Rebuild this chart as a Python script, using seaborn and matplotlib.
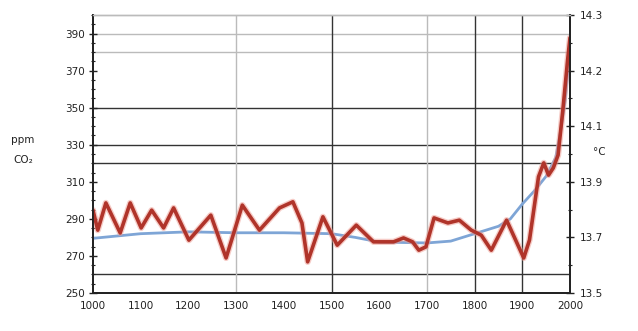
import matplotlib
matplotlib.use("Agg")
import matplotlib.pyplot as plt
import seaborn as sns
import pandas as pd
from matplotlib.ticker import FixedLocator, MultipleLocator, FixedFormatter

sns.set_style("white")
plt.rcParams['font.family'] = ['DejaVu Sans']

# ---- data ----
co2_years = [1000, 1100, 1200, 1300, 1400, 1500, 1550, 1600, 1700, 1750, 1800,
             1850, 1875, 1900, 1925, 1950, 1970, 1980, 1990, 2000]
co2_ppm = [279.5, 282, 283, 282.5, 282.5, 282, 280, 277.5, 277, 278, 282,
           286, 290, 298, 305, 313, 323, 337, 354, 382]

temp_years = [1000, 1010, 1027, 1057, 1078, 1101, 1123, 1148, 1169, 1201, 1247,
              1279, 1313, 1349, 1391, 1419, 1438, 1450, 1482, 1512, 1552, 1588,
              1630, 1651, 1670, 1683, 1698, 1715, 1744, 1768, 1793, 1814, 1835,
              1867, 1884, 1903, 1915, 1934, 1945, 1955, 1965, 1975, 1985, 1995, 2000]
temp_c = [13.949, 13.913, 13.962, 13.908, 13.962, 13.917, 13.949, 13.917, 13.953,
          13.895, 13.940, 13.863, 13.958, 13.913, 13.953, 13.964, 13.926, 13.856,
          13.937, 13.886, 13.922, 13.892, 13.892, 13.899, 13.892, 13.877, 13.883,
          13.935, 13.926, 13.931, 13.913, 13.904, 13.877, 13.931, 13.899, 13.863,
          13.895, 14.009, 14.034, 14.012, 14.025, 14.048, 14.129, 14.219, 14.259]

x_ticks = [1000, 1100, 1200, 1300, 1400, 1500, 1600, 1700, 1800, 1900, 2000]
x_labels = ["1000", "1100", "1200", "1300", "1400", "1500", "1600", "1700",
            "1800", "1900", "2000"]
left_ticks = [250, 270, 290, 310, 330, 350, 370, 390]
right_tick_pos = [13.8, 13.9, 14.0, 14.1, 14.2, 14.3]
right_labels = ["13.5", "13.7", "13.9", "14.1", "14.2", "14.3"]

hgrid_dark = [260, 320, 330, 350]
hgrid_light = [380, 390]
vgrid_dark = [1500, 1800, 1900]
vgrid_light = [1300, 1700]

co2_df = pd.DataFrame({"year": co2_years, "ppm": co2_ppm})
temp_df = pd.DataFrame({"year": temp_years, "temp": temp_c})

fig = plt.figure(figsize=(6.38, 3.31), dpi=100)
ax = fig.add_axes([93 / 638, 1 - 293 / 331, (570 - 93) / 638, (293 - 15) / 331])
ax2 = ax.twinx()

for v in hgrid_dark:
    ax.axhline(v, color="#333333", lw=1.0, zorder=0)
for v in hgrid_light:
    ax.axhline(v, color="#bbbbbb", lw=1.0, zorder=0)
for v in vgrid_dark:
    ax.axvline(v, color="#333333", lw=1.0, zorder=0)
for v in vgrid_light:
    ax.axvline(v, color="#bbbbbb", lw=1.0, zorder=0)

sns.lineplot(data=co2_df, x="year", y="ppm", ax=ax, color="#7ea5d6", lw=2.0)
sns.lineplot(data=temp_df, x="year", y="temp", ax=ax2, color="#ee9a90", lw=4.5,
             alpha=0.5)
sns.lineplot(data=temp_df, x="year", y="temp", ax=ax2, color="#b0342a", lw=2.6,
             solid_joinstyle="round", solid_capstyle="round")

ax.set_xlim(1000, 2000)
ax.set_ylim(250, 400)
ax2.set_ylim(13.8, 14.3)

ax.set_xticks(x_ticks)
ax.set_xticklabels(x_labels, fontsize=7.5, color="#222222")
ax.set_yticks(left_ticks)
ax.set_yticklabels([str(t) for t in left_ticks], fontsize=7.5, color="#222222")
ax.yaxis.set_minor_locator(MultipleLocator(5))
ax2.yaxis.set_major_locator(FixedLocator(right_tick_pos))
ax2.yaxis.set_major_formatter(FixedFormatter(right_labels))
ax2.yaxis.set_minor_locator(MultipleLocator(0.05))
ax2.tick_params(axis="y", labelsize=7.5, colors="#222222")

ax.set_xlabel("")
ax.set_ylabel("")
ax2.set_ylabel("")

for a in (ax, ax2):
    for s in ("left", "right", "bottom"):
        a.spines[s].set_color("#222222")
        a.spines[s].set_linewidth(1.3)
    a.spines["top"].set_color("#bbbbbb")
    a.spines["top"].set_linewidth(1.0)

ax.tick_params(axis="both", which="major", direction="inout", length=6,
               width=1.0, color="#222222", pad=3)
ax.tick_params(axis="y", which="minor", direction="inout", length=3,
               width=0.8, color="#222222", left=True)
ax2.tick_params(axis="y", which="major", direction="inout", length=6,
                width=1.0, color="#222222", pad=4)
ax2.tick_params(axis="y", which="minor", direction="inout", length=3,
                width=0.8, color="#222222")

fig.text(0.036, 0.577, "ppm", fontsize=7.5, ha="center", va="center", color="#222222")
fig.text(0.036, 0.517, "CO\u2082", fontsize=7.5, ha="center", va="center", color="#222222")
fig.text(0.94, 0.54, "\u00b0C", fontsize=7.5, ha="center", va="center", color="#222222")

fig.savefig("out.png", dpi=100, facecolor="white")
